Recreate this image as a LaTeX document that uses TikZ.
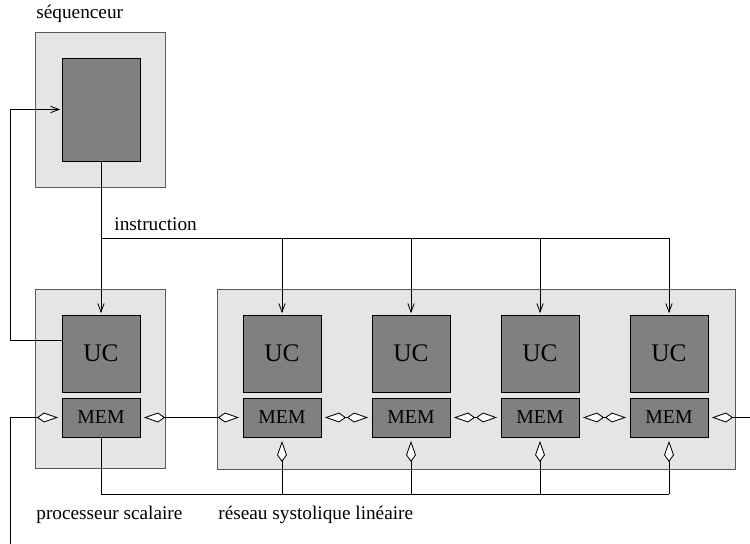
\documentclass[tikz,border=0pt]{standalone}
\usepackage{fontspec}
\setmainfont{Liberation Serif}
\usetikzlibrary{arrows.meta}
\tikzset{
  cadre/.style={draw=black!65, fill=black!10, line width=0.7pt, inner sep=0pt},
  bloc/.style={draw=black, fill=black!50, line width=0.6pt, inner sep=0pt, minimum width=1.95cm},
  ucbox/.style={bloc, minimum height=1.925cm, font=\fontsize{18}{20}\selectfont},
  membox/.style={bloc, minimum height=0.975cm, font=\fontsize{14}{16}\selectfont},
  fleche/.style={-{Straight Barb[length=6pt,width=4.5pt]}, shorten >=1pt},
  losange/.style={Kite[fill=white,length=15pt,width=7pt,inset=5pt]},
  lien/.style={{Kite[fill=white,length=15pt,width=7pt,inset=5pt]}-{Kite[fill=white,length=15pt,width=7pt,inset=5pt]}, shorten <=2.5pt, shorten >=2.5pt},
  lienfin/.style={-{Kite[fill=white,length=15pt,width=7pt,inset=5pt]}, shorten >=2.5pt},
  liendebut/.style={{Kite[fill=white,length=15pt,width=7pt,inset=5pt]}-, shorten <=2.5pt},
  etiq/.style={font=\fontsize{13.7}{16}\selectfont, inner sep=0pt}
}
\begin{document}
\begin{tikzpicture}[x=0.025cm,y=-0.025cm,line width=0.6pt]
  \useasboundingbox (0,0) rectangle (750,544);
  % sequenceur
  \node[cadre, minimum width=3.225cm, minimum height=3.85cm] (seqcadre) at (100.5,110) {};
  \node[bloc, minimum height=2.575cm] (seq) at (101,109.5) {};
  \node[etiq, anchor=base west] (seqlbl) at (36,19) {séquenceur};
  % processeur scalaire et reseau
  \node[cadre, minimum width=3.225cm, minimum height=4.45cm] (scalcadre) at (100.5,379) {};
  \node[cadre, minimum width=12.925cm, minimum height=4.475cm] (rescadre) at (476.5,379.5) {};
  \node[ucbox] (uc0) at (101,353.5) {UC};
  \node[membox] (mem0) at (101,417.5) {MEM};
  \foreach \i/\x in {1/282,2/411,3/540,4/669}{
    \node[ucbox] (uc\i) at (\x,353.5) {UC};
    \node[membox] (mem\i) at (\x,417.5) {MEM};
  }
  \node[etiq, anchor=base west] (scallbl) at (36,519) {processeur scalaire};
  \node[etiq, anchor=base west] (reslbl) at (218,519) {réseau systolique linéaire};
  % instruction
  \coordinate (instr) at (101,238);
  \draw[fleche] (seq.south) -- (uc0.north);
  \draw (instr) -- (uc4.north |- instr);
  \node[etiq, anchor=base west] (instrlbl) at (114,231) {instruction};
  \foreach \i in {1,...,4}
    \draw[fleche] (uc\i.north |- instr) -- (uc\i.north);
  % retour vers le sequenceur
  \coordinate (retour) at (10,340);
  \draw[fleche] (uc0.west |- retour) -- (retour) |- (seq.west);
  % bus du bas
  \coordinate (bus) at (0,494);
  \draw (mem0.south) -- (mem0.south |- bus) -- (mem4.south |- bus);
  \foreach \i in {1,...,4}
    \draw[lienfin] (mem\i.south |- bus) -- (mem\i.south);
  % liens entre memoires
  \draw[lien] (mem0.east) -- (mem1.west);
  \foreach \i/\j in {1/2,2/3,3/4}
    \draw[lien] (mem\i.east) -- (mem\j.west);
  \coordinate (entree) at (10,544);
  \coordinate (sortie) at (750,417.5);
  \draw[lienfin] (entree) |- (mem0.west);
  \draw[liendebut] (mem4.east) -- (sortie);
\end{tikzpicture}
\end{document}
